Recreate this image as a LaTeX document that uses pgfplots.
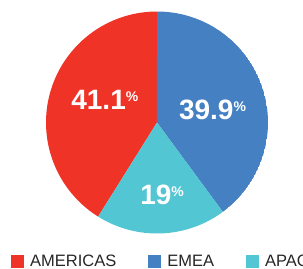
\documentclass[border=0pt]{standalone}
\usepackage{fontspec}
\setmainfont{Liberation Sans}
\usepackage{pgfplots}
\pgfplotsset{compat=1.18}
\usepgfplotslibrary{polar}
\definecolor{cAm}{HTML}{EF3326}
\definecolor{cEm}{HTML}{4580C2}
\definecolor{cAp}{HTML}{53C6D4}
% shares (percent)
\def\vEm{39.9}
\def\vAp{19}
\def\vAm{41.1}
\pgfmathsetmacro{\aA}{90}
\pgfmathsetmacro{\aB}{\aA-\vEm*3.6}
\pgfmathsetmacro{\aC}{\aB-\vAp*3.6}
\pgfmathsetmacro{\aD}{\aC-\vAm*3.6}
\newcommand{\pct}{\raisebox{8bp}{\fontsize{14bp}{14bp}\selectfont\%}}
\begin{document}
\begin{tikzpicture}
\begin{polaraxis}[
  at={(46bp,35.5bp)}, anchor=south west,
  scale only axis, width=222bp, height=222bp,
  hide axis, ymin=0, ymax=1,
  legend columns=3,
  legend image code/.code={\fill[#1] (0bp,-6.5bp) rectangle (13bp,6.5bp);},
  legend style={draw=none, fill=none, at={(-0.171,-0.126)}, anchor=west,
    font=\fontsize{16.5bp}{18bp}\selectfont, text=black!85,
    /tikz/every odd column/.append style={column sep=4bp},
    /tikz/every even column/.append style={column sep=30bp}},
]
\addplot[fill=cAm, draw=none, domain=\aD:\aC, samples=120] {1} -- (axis cs:0,0) -- cycle;
\addlegendentry{AMERICAS}
\addplot[fill=cEm, draw=none, domain=\aB:\aA, samples=120] {1} -- (axis cs:0,0) -- cycle;
\addlegendentry{EMEA}
\addplot[fill=cAp, draw=none, domain=\aC:\aB, samples=80] {1} -- (axis cs:0,0) -- cycle;
\addlegendentry{APAC}
\node[text=white, font=\bfseries\fontsize{28bp}{30bp}\selectfont] at (axis cs:156.9,0.511) {\vAm\pct};
\node[text=white, font=\bfseries\fontsize{28bp}{30bp}\selectfont] at (axis cs:12.4,0.512) {\vEm\pct};
\node[text=white, font=\bfseries\fontsize{28bp}{30bp}\selectfont] at (axis cs:-86,0.652) {\vAp\pct};
\end{polaraxis}
\pgfresetboundingbox
\path[use as bounding box] (0,0) rectangle (303bp,269bp);
\end{tikzpicture}
\end{document}
